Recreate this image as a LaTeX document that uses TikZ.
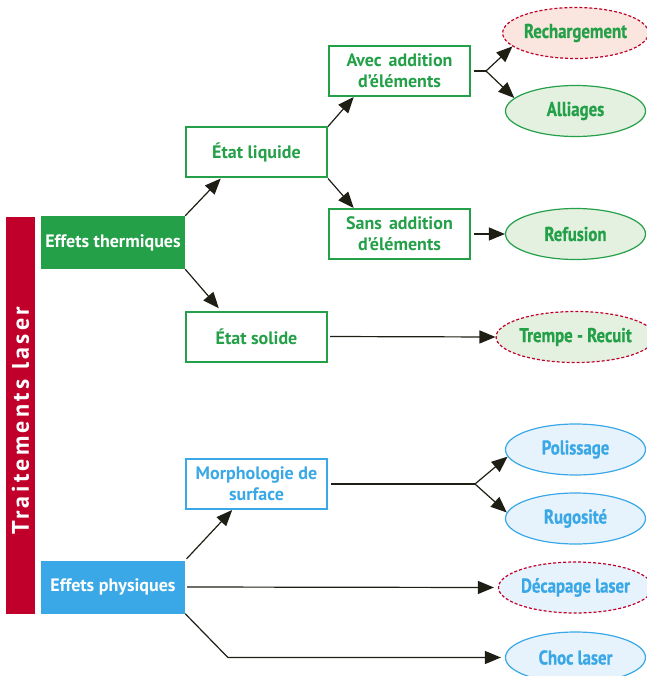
\documentclass[tikz,border=0pt]{standalone}
\usepackage{fontspec}
\setmainfont{PT Sans}
\newfontfamily\etroit[FakeStretch=0.84, FakeBold=0.6]{PT Sans}
\newfontfamily\espace[LetterSpace=14]{PT Sans}
\usepackage{tikz}
\usetikzlibrary{positioning, arrows.meta, shapes.geometric, calc}
\definecolor{VertLaser}{RGB}{36,160,72}
\definecolor{VertClair}{RGB}{228,241,225}
\definecolor{BleuLaser}{RGB}{58,168,230}
\definecolor{BleuClair}{RGB}{231,243,252}
\definecolor{RougeLaser}{RGB}{192,0,42}
\definecolor{RoseClair}{RGB}{250,230,222}
\definecolor{Trait}{RGB}{30,30,20}
\tikzset{
  effet/.style={minimum width=144pt, minimum height=53pt, inner sep=0pt, text=white,
    font=\fontsize{18}{20}\selectfont\bfseries},
  etat/.style={draw=VertLaser, line width=2pt, fill=white, minimum width=141pt, minimum height=50pt,
    inner sep=0pt, align=center, text=VertLaser, font=\fontsize{18}{21}\selectfont\bfseries},
  procede/.style={ellipse, draw=VertLaser, line width=1.2pt, fill=VertClair, minimum width=140pt,
    minimum height=51pt, inner sep=0pt, text=VertLaser, font=\etroit\fontsize{20}{22}\selectfont\bfseries},
  procedebleu/.style={procede, draw=BleuLaser, fill=BleuClair, text=BleuLaser},
  pointille/.style={draw=RougeLaser, dash pattern=on 3pt off 2pt},
  fleche/.style={-{Triangle[length=16pt,width=13pt]}, line width=1.2pt, draw=Trait},
  trait/.style={line width=1.2pt, draw=Trait},
}

\begin{document}
\begin{tikzpicture}[x=1pt, y=-1pt]
  \useasboundingbox (0,0) rectangle (646,676);
  % colonne de gauche
  \node[fill=RougeLaser, rotate=90, minimum width=397pt, minimum height=29pt, inner sep=0pt,
    text=white, font=\espace\fontsize{24}{26}\selectfont\bfseries] (barre) at (20.5,415.5)
    {Traitements laser\hspace*{10pt}};
  \node[effet, fill=VertLaser] (thermo) at (113,242.5) {Effets thermiques};
  \node[effet, fill=BleuLaser] (physique) at (113,587) {Effets physiques};
  % etats
  \node[etat] (liquide) at (256.5,152.5) {État liquide};
  \node[etat] (solide) at (256.5,336.5) {État solide};
  \node[etat] (avec) at (399.5,71) {Avec\hspace{7pt}addition\\d’éléments};
  \node[etat] (sans) at (399.5,234) {Sans\hspace{7pt}addition\\d’éléments};
  \node[etat, draw=BleuLaser, text=BleuLaser] (morpho) at (256.5,484) {Morphologie de\\surface};
  % procedes
  \node[procede, pointille, fill=RoseClair] (recharge) at (575.5,33) {Rechargement};
  \node[procede] (alliage) at (575.5,111) {Alliages};
  \node[procede] (refusion) at (575.5,234) {Refusion};
  \node[procede, pointille] (trempe) at (575.5,337) {Trempe - Recuit};
  \node[procedebleu] (poli) at (575.5,449.5) {Polissage};
  \node[procedebleu] (rugo) at (575.5,518.5) {Rugosité};
  \node[procedebleu, pointille] (decap) at (575.5,587.5) {Décapage laser};
  \node[procedebleu] (choc) at (575.5,657.5) {Choc laser};
  % fourches
  \coordinate (fourche1) at ($(avec.east)+(15,0)$);
  \coordinate (fourche2) at ($(morpho.east)+(147,0)$);
  \coordinate (coude) at ($(choc.west)+(-277,0)$);
  % connecteurs
  \draw[fleche] (thermo.north east) -- ($(liquide.south west)!0.25!(liquide.south east)$);
  \draw[fleche, shorten >=3pt] (thermo.south east) -- ($(solide.north west)!0.25!(solide.north east)$);
  \draw[fleche] (liquide.north east) -- ($(avec.south west)!0.18!(avec.south east)$);
  \draw[fleche] (liquide.south east) -- ($(sans.north west)!0.18!(sans.north east)$);
  \draw[trait, shorten <=3pt] (avec.east) -- (fourche1);
  \draw[fleche] (fourche1) -- (recharge.192);
  \draw[fleche] (fourche1) -- (alliage.168);
  \draw[fleche, shorten <=3pt] (sans.east) -- (refusion.west);
  \draw[fleche, shorten <=2pt] (solide.east) -- (trempe.west);
  \draw[trait, shorten <=3pt] (morpho.east) -- (fourche2);
  \draw[fleche] (fourche2) -- (poli.186);
  \draw[fleche] (fourche2) -- (rugo.175);
  \draw[fleche, shorten <=2pt] (physique.north east) -- ($(morpho.south west)!0.33!(morpho.south east)$);
  \draw[fleche, shorten <=2pt, shorten >=4pt] (physique.east) -- (decap.west);
  \draw[fleche, shorten >=4pt] (physique.south east) -- (coude) -- (choc.west);
\end{tikzpicture}
\end{document}
